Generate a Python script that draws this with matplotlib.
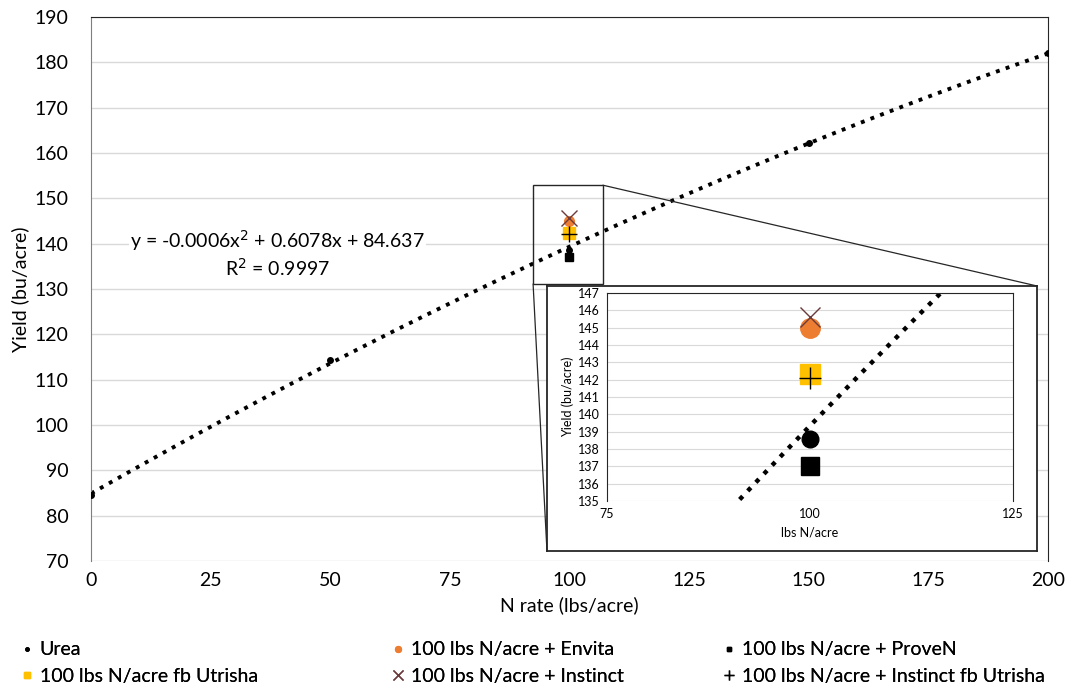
import matplotlib.pyplot as plt
import numpy as np
from matplotlib.patches import Rectangle, ConnectionPatch

plt.rcParams['font.family'] = ['Lato', 'DejaVu Sans']

# Dados
urea_n = [0, 50, 100, 150, 200]
urea_yield = [84.6, 114.4, 138.6, 162.3, 182.0]

trt_labels = ['100 lbs N/acre + Envita', '100 lbs N/acre + ProveN',
              '100 lbs N/acre fb Utrisha', '100 lbs N/acre + Instinct',
              '100 lbs N/acre + Instinct fb Utrisha']
trt_n = [100, 100, 100, 100, 100]
trt_yield = [145.0, 137.0, 142.3, 145.6, 142.1]

x_ticks = [0, 25, 50, 75, 100, 125, 150, 175, 200]
y_ticks = list(range(70, 191, 10))

# estilos dos marcadores (tratamentos)
estilos = [
    dict(marker='o', color='#ed7d31', ms_main=7, ms_in=14),
    dict(marker='s', color='black', ms_main=6, ms_in=13),
    dict(marker='s', color='#ffc000', ms_main=8, ms_in=15),
    dict(marker='x', color='#6b3a3a', ms_main=11, ms_in=15),
    dict(marker='+', color='black', ms_main=11, ms_in=16),
]

coef = np.polyfit(urea_n, urea_yield, 2)
xs = np.linspace(0, 200, 400)
ys = np.polyval(coef, xs)

fig = plt.figure(figsize=(10.66, 6.89), dpi=100)
ax = fig.add_axes([0.0854, 0.1858, 0.8976, 0.7895])

ax.plot(xs, ys, ':', color='black', lw=2.8, zorder=2)
ax.plot(urea_n, urea_yield, 'o', color='black', ms=4, label='Urea', zorder=3)
for lab, xv, yv, st in zip(trt_labels, trt_n, trt_yield, estilos):
    kw = dict(mew=1.0) if st['marker'] in ('x', '+') else {}
    ax.plot([xv], [yv], linestyle='none', marker=st['marker'], color=st['color'],
            ms=st['ms_main'], label=lab, zorder=4, **kw)

ax.set_xlim(0, 200)
ax.set_ylim(70, 190)
ax.set_xticks(x_ticks)
ax.set_yticks(y_ticks)
ax.tick_params(length=0, labelsize=14)
ax.tick_params(axis='y', pad=16)
ax.tick_params(axis='x', pad=8)
ax.grid(axis='y', color='#d9d9d9', lw=1)
ax.set_axisbelow(True)
for s in ['top', 'right']:
    ax.spines[s].set_color('#262626')
ax.spines['left'].set_color('#7f7f7f')
ax.spines['bottom'].set_visible(False)
ax.set_xlabel('N rate (lbs/acre)', fontsize=14, labelpad=5)
ax.set_ylabel('Yield (bu/acre)', fontsize=14, labelpad=4)

ax.text(39, 137.8, 'y = -0.0006x$^2$ + 0.6078x + 84.637\nR$^2$ = 0.9997',
        ha='center', va='center', fontsize=14, linespacing=1.2,
        bbox=dict(fc='white', ec='none', pad=1), zorder=3)

# caixa de zoom no gráfico principal
ax.add_patch(Rectangle((92.4, 131.1), 14.6, 21.8, fill=False, ec='#262626', lw=1, zorder=5))

# inset
box = fig.add_axes([0.5131, 0.2003, 0.4597, 0.3846])
box.set_xticks([])
box.set_yticks([])
box.set_facecolor('white')
for s in box.spines.values():
    s.set_color('#262626')
    s.set_linewidth(1.3)

ins = fig.add_axes([0.5694, 0.2729, 0.3809, 0.3019])
ins.plot(xs, ys, ':', color='black', lw=3.2, zorder=2)
ins.plot(urea_n, urea_yield, 'o', color='black', ms=12, zorder=3)
for xv, yv, st in zip(trt_n, trt_yield, estilos):
    kw = dict(mew=1.0) if st['marker'] in ('x', '+') else {}
    ins.plot([xv], [yv], linestyle='none', marker=st['marker'], color=st['color'],
             ms=st['ms_in'], zorder=4, **kw)
ins.set_xlim(75, 125)
ins.set_ylim(135, 147)
ins.set_xticks([75, 100, 125])
ins.set_yticks(range(135, 148))
ins.tick_params(length=0, labelsize=9, pad=5)
ins.grid(axis='y', color='#d9d9d9', lw=0.8)
ins.set_axisbelow(True)
for s in ['top', 'right', 'left']:
    ins.spines[s].set_color('#262626')
ins.spines['bottom'].set_visible(False)
ins.set_xlabel('lbs N/acre', fontsize=9, labelpad=5)
ins.set_ylabel('Yield (bu/acre)', fontsize=9, labelpad=3)

# linhas de ligação
for (xa, ya), (xb, yb) in [((107.0, 152.9), (1.0, 1.0)), ((92.4, 131.1), (0.0, 0.0))]:
    con = ConnectionPatch(xyA=(xa, ya), coordsA=ax.transData,
                          xyB=(xb, yb), coordsB=box.transAxes,
                          color='#262626', lw=0.9, zorder=6)
    fig.add_artist(con)

# legenda em três colunas
h, l = ax.get_legend_handles_labels()
colunas = [([0, 3], 0.008), ([1, 4], 0.356), ([2, 5], 0.667)]
for idx, x0 in colunas:
    leg = fig.legend([h[i] for i in idx], [l[i] for i in idx],
                     loc='lower left', bbox_to_anchor=(x0, -0.014),
                     frameon=False, fontsize=14, handlelength=0.5, handletextpad=0.4,
                     labelspacing=0.5, markerscale=0.6, borderaxespad=0.3)
    fig.add_artist(leg)

plt.savefig('out.png', dpi=100)
